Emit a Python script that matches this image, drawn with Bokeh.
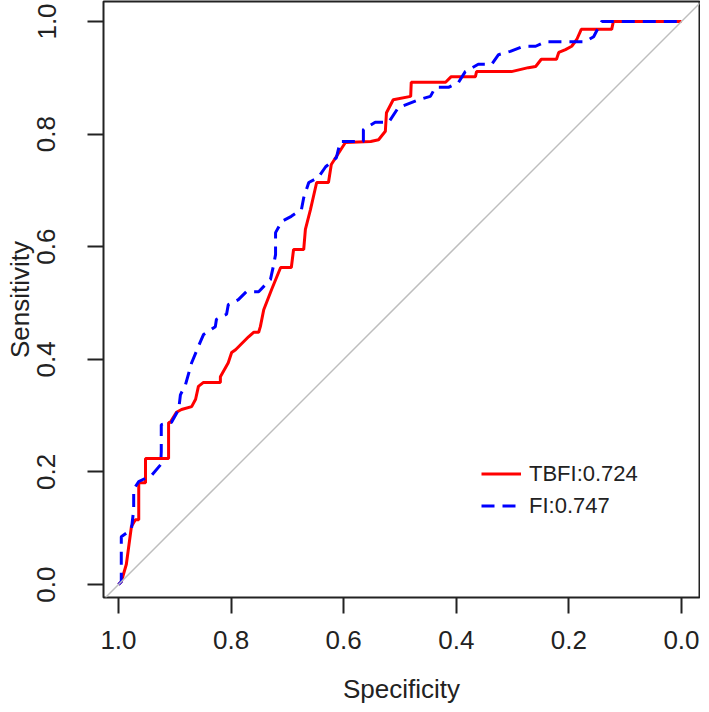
from bokeh.plotting import figure
from bokeh.models import Range1d, FixedTicker, Legend, LegendItem, Slope
from bokeh.embed import file_html
from bokeh.resources import INLINE

# ROC curve for TBFI (specificity, sensitivity)
spec_tbfi = [1.000, 0.995, 0.986, 0.977, 0.970, 0.964, 0.964, 0.956, 0.952, 0.952, 0.911, 0.911,
             0.908, 0.897, 0.888, 0.870, 0.863, 0.858, 0.849, 0.819, 0.819, 0.805, 0.799, 0.792,
             0.769, 0.760, 0.751, 0.748, 0.742, 0.728, 0.712, 0.693, 0.689, 0.671, 0.668, 0.659,
             0.648, 0.627, 0.622, 0.597, 0.552, 0.538, 0.526, 0.524, 0.512, 0.481, 0.480, 0.419,
             0.409, 0.366, 0.364, 0.302, 0.272, 0.259, 0.249, 0.222, 0.218, 0.206, 0.195, 0.186,
             0.178, 0.124, 0.121, 0.000]
sens_tbfi = [0.000, 0.005, 0.036, 0.103, 0.115, 0.115, 0.181, 0.181, 0.181, 0.224, 0.224, 0.288,
             0.288, 0.306, 0.311, 0.316, 0.329, 0.352, 0.359, 0.359, 0.369, 0.394, 0.412, 0.417,
             0.440, 0.448, 0.448, 0.458, 0.488, 0.524, 0.563, 0.563, 0.595, 0.595, 0.631, 0.666,
             0.714, 0.714, 0.746, 0.785, 0.787, 0.790, 0.805, 0.838, 0.861, 0.867, 0.892, 0.892,
             0.902, 0.902, 0.911, 0.911, 0.918, 0.920, 0.933, 0.933, 0.945, 0.950, 0.956, 0.968,
             0.986, 0.986, 1.000, 1.000]

# ROC curve for FI
spec_fi = [1.000, 0.995, 0.995, 0.977, 0.973, 0.973, 0.964, 0.941, 0.925, 0.924, 0.924, 0.906,
           0.893, 0.890, 0.881, 0.870, 0.858, 0.849, 0.828, 0.826, 0.808, 0.805, 0.787, 0.773,
           0.751, 0.730, 0.725, 0.721, 0.721, 0.710, 0.693, 0.675, 0.671, 0.662, 0.645, 0.632,
           0.613, 0.606, 0.565, 0.565, 0.544, 0.520, 0.503, 0.467, 0.446, 0.437, 0.414, 0.396,
           0.384, 0.361, 0.337, 0.325, 0.304, 0.281, 0.259, 0.242, 0.171, 0.156, 0.142, 0.000]
sens_fi = [0.000, 0.005, 0.085, 0.098, 0.133, 0.169, 0.183, 0.194, 0.213, 0.236, 0.284, 0.288,
           0.311, 0.337, 0.355, 0.394, 0.423, 0.444, 0.458, 0.471, 0.480, 0.497, 0.506, 0.520,
           0.520, 0.542, 0.565, 0.586, 0.625, 0.645, 0.654, 0.666, 0.687, 0.714, 0.723, 0.742,
           0.758, 0.787, 0.787, 0.808, 0.821, 0.821, 0.847, 0.861, 0.867, 0.883, 0.883, 0.892,
           0.911, 0.924, 0.924, 0.941, 0.947, 0.956, 0.956, 0.964, 0.964, 0.973, 1.000, 1.000]

series_labels = ["TBFI:0.724", "FI:0.747"]
tick_values = [0.0, 0.2, 0.4, 0.6, 0.8, 1.0]
tick_labels = ["0.0", "0.2", "0.4", "0.6", "0.8", "1.0"]

FONT = "Liberation Sans"

p = figure(frame_width=596, frame_height=596,
           min_border_left=103, min_border_right=1, min_border_top=1, min_border_bottom=99,
           x_range=Range1d(1.0266, -0.032), y_range=Range1d(-0.023, 1.0355),
           output_backend="svg", toolbar_location=None,
           background_fill_color="white", border_fill_color="white")
p.xgrid.visible = False
p.ygrid.visible = False
p.outline_line_color = "#222222"
p.outline_line_width = 2
p.outline_line_alpha = 1.0

# diagonal reference
diag = Slope(gradient=-1, y_intercept=1, line_color="#BEBEBE", line_width=1.5)
p.add_layout(diag)

r1 = p.line(spec_tbfi, sens_tbfi, line_color="#FF0000", line_width=3)
r2 = p.line(spec_fi, sens_fi, line_color="#0000FF", line_width=3, line_dash="13 8")

legend = Legend(items=[LegendItem(label=series_labels[0], renderers=[r1]),
                       LegendItem(label=series_labels[1], renderers=[r2])],
                location=(378, 77), orientation="vertical",
                border_line_color=None, background_fill_alpha=0,
                padding=0, margin=0, spacing=3,
                glyph_width=40, glyph_height=29, label_height=29,
                label_standoff=8,
                label_text_font=FONT, label_text_font_size="22px", label_text_color="#222222")
p.add_layout(legend, "center")

for ax in (p.xaxis[0], p.yaxis[0]):
    ax.ticker = FixedTicker(ticks=tick_values)
    ax.major_label_overrides = {v: l for v, l in zip(tick_values, tick_labels)}
    ax.axis_line_color = None
    ax.major_tick_in = 0
    ax.major_tick_out = 16
    ax.major_tick_line_color = "#222222"
    ax.major_tick_line_width = 2
    ax.minor_tick_line_color = None
    ax.major_label_text_font = FONT
    ax.major_label_text_font_size = "26px"
    ax.major_label_text_color = "#222222"
    ax.axis_label_text_font = FONT
    ax.axis_label_text_font_size = "26px"
    ax.axis_label_text_font_style = "normal"
    ax.axis_label_text_color = "#222222"

p.xaxis.axis_label = "Specificity"
p.yaxis.axis_label = "Sensitivity"
p.xaxis.major_label_standoff = 17
p.xaxis.axis_label_standoff = 22
p.yaxis.major_label_standoff = 32
p.yaxis.axis_label_standoff = 0
p.yaxis.major_label_orientation = "vertical"

open("out.html", "w").write(file_html(p, INLINE))
